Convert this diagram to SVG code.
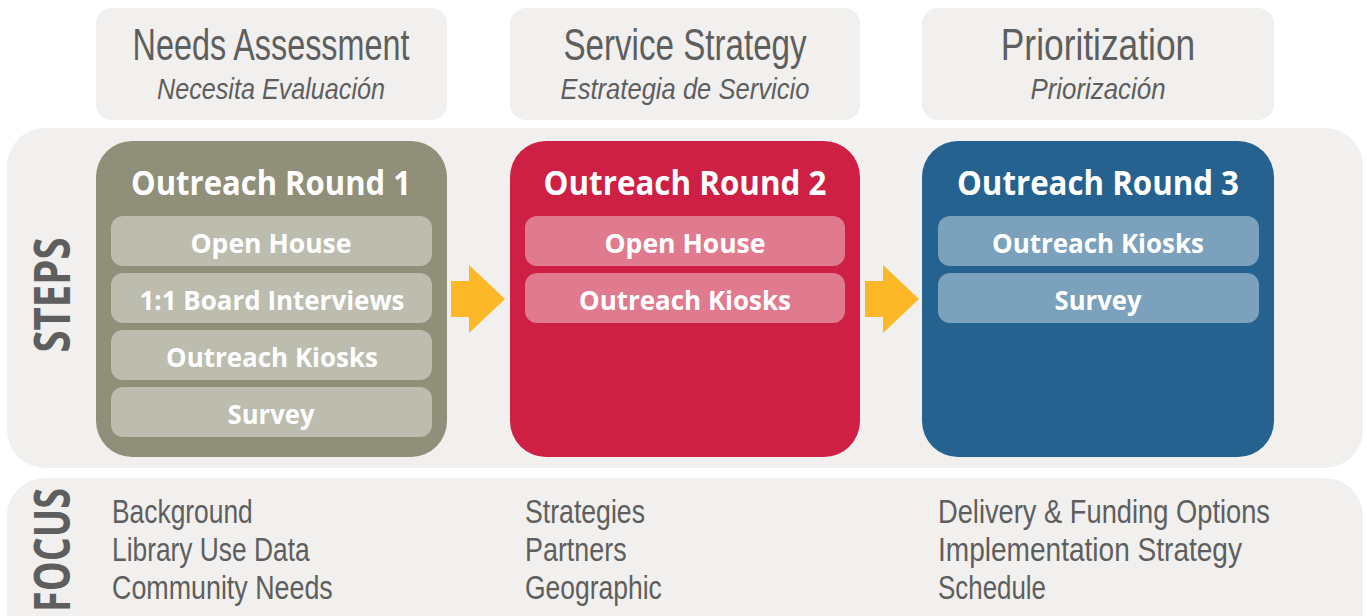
<svg xmlns="http://www.w3.org/2000/svg" width="1367" height="616" viewBox="0 0 1367 616">
<style>
.panel{fill:#F1F0EE}
.hd{font-family:"Liberation Sans",Arial,sans-serif;font-size:44px;fill:#5E5E5E;text-anchor:middle}
.hdi{font-family:"Liberation Sans",Arial,sans-serif;font-size:30px;font-style:italic;fill:#5E5E5E;text-anchor:middle}
.ttl{font-family:"Open Sans","Liberation Sans",sans-serif;font-size:34px;font-weight:bold;fill:#FFFFFF;text-anchor:middle}
.it{font-family:"Open Sans","Liberation Sans",sans-serif;font-size:27px;font-weight:bold;fill:#FFFFFF;text-anchor:middle}
.fc{font-family:"Liberation Sans",Arial,sans-serif;font-size:34px;fill:#5E5E5E}
.side{font-family:"Open Sans","Liberation Sans",sans-serif;font-size:50px;font-weight:bold;fill:#5E5E5E;text-anchor:middle}
.r1{fill:#8F8F7A}.s1{fill:#BCBCAF}
.r2{fill:#CE1F45}.s2{fill:#E07A8E}
.r3{fill:#26628F}.s3{fill:#7BA1BD}
.arr{fill:#FDB827}
</style>
<rect width="1367" height="616" fill="#FFFFFF"/>
<g id="header1"><rect class="panel" x="96" y="8" width="351" height="112" rx="16"/>
<text class="hd" transform="translate(271,60) scale(0.8,1)" textLength="346" lengthAdjust="spacingAndGlyphs">Needs Assessment</text>
<text class="hdi" transform="translate(271,99) scale(0.8,1)" textLength="285" lengthAdjust="spacingAndGlyphs">Necesita Evaluación</text></g>
<g id="header2"><rect class="panel" x="510" y="8" width="350" height="112" rx="16"/>
<text class="hd" transform="translate(685,60) scale(0.8,1)" textLength="304" lengthAdjust="spacingAndGlyphs">Service Strategy</text>
<text class="hdi" transform="translate(685,99) scale(0.8,1)" textLength="311" lengthAdjust="spacingAndGlyphs">Estrategia de Servicio</text></g>
<g id="header3"><rect class="panel" x="922" y="8" width="352" height="112" rx="16"/>
<text class="hd" transform="translate(1098,60) scale(0.8,1)" textLength="243" lengthAdjust="spacingAndGlyphs">Prioritization</text>
<text class="hdi" transform="translate(1098,99) scale(0.8,1)" textLength="169" lengthAdjust="spacingAndGlyphs">Priorización</text></g>

<g id="steps-panel"><rect class="panel" x="7" y="128" width="1356" height="340" rx="38"/>
<text class="side" transform="translate(70,295) rotate(-90)" textLength="115" lengthAdjust="spacingAndGlyphs">STEPS</text></g>
<g id="focus-panel"><rect class="panel" x="7" y="478" width="1356" height="170" rx="38"/>
<text class="side" transform="translate(70,550) rotate(-90)" textLength="124" lengthAdjust="spacingAndGlyphs">FOCUS</text></g>

<g id="round1"><rect class="r1" x="96" y="141" width="351" height="316" rx="36"/>
<text class="ttl" x="271" y="195" textLength="280" lengthAdjust="spacingAndGlyphs">Outreach Round 1</text>
<rect class="s1" x="111" y="216" width="321" height="50" rx="12"/>
<text class="it" x="271" y="253" textLength="161" lengthAdjust="spacingAndGlyphs">Open House</text>
<rect class="s1" x="111" y="273" width="321" height="50" rx="12"/>
<text class="it" x="272" y="310" textLength="265" lengthAdjust="spacingAndGlyphs">1:1 Board Interviews</text>
<rect class="s1" x="111" y="330" width="321" height="50" rx="12"/>
<text class="it" x="272" y="367" textLength="212" lengthAdjust="spacingAndGlyphs">Outreach Kiosks</text>
<rect class="s1" x="111" y="387" width="321" height="50" rx="12"/>
<text class="it" x="271" y="424" textLength="87" lengthAdjust="spacingAndGlyphs">Survey</text></g>

<g id="round2"><rect class="r2" x="510" y="141" width="350" height="316" rx="36"/>
<text class="ttl" x="685" y="195" textLength="283" lengthAdjust="spacingAndGlyphs">Outreach Round 2</text>
<rect class="s2" x="525" y="216" width="320" height="50" rx="12"/>
<text class="it" x="685" y="253" textLength="161" lengthAdjust="spacingAndGlyphs">Open House</text>
<rect class="s2" x="525" y="273" width="320" height="50" rx="12"/>
<text class="it" x="685" y="310" textLength="212" lengthAdjust="spacingAndGlyphs">Outreach Kiosks</text></g>

<g id="round3"><rect class="r3" x="922" y="141" width="352" height="316" rx="36"/>
<text class="ttl" x="1098" y="195" textLength="282" lengthAdjust="spacingAndGlyphs">Outreach Round 3</text>
<rect class="s3" x="938" y="216" width="321" height="50" rx="12"/>
<text class="it" x="1098" y="253" textLength="212" lengthAdjust="spacingAndGlyphs">Outreach Kiosks</text>
<rect class="s3" x="938" y="273" width="321" height="50" rx="12"/>
<text class="it" x="1098" y="310" textLength="87" lengthAdjust="spacingAndGlyphs">Survey</text></g>

<g id="connectors">
<polygon class="arr" points="451,281 469,281 469,265 505,299 469,333 469,317 451,317"/>
<polygon class="arr" points="865,281 883,281 883,265 919,299 883,333 883,317 865,317"/>
</g>

<g id="focus1">
<text class="fc" transform="translate(112,523) scale(0.8,1)" textLength="176" lengthAdjust="spacingAndGlyphs">Background</text>
<text class="fc" transform="translate(112,561) scale(0.8,1)" textLength="247" lengthAdjust="spacingAndGlyphs">Library Use Data</text>
<text class="fc" transform="translate(112,599) scale(0.8,1)" textLength="276" lengthAdjust="spacingAndGlyphs">Community Needs</text></g>
<g id="focus2">
<text class="fc" transform="translate(525,523) scale(0.8,1)" textLength="150" lengthAdjust="spacingAndGlyphs">Strategies</text>
<text class="fc" transform="translate(525,561) scale(0.8,1)" textLength="127" lengthAdjust="spacingAndGlyphs">Partners</text>
<text class="fc" transform="translate(525,599) scale(0.8,1)" textLength="171" lengthAdjust="spacingAndGlyphs">Geographic</text></g>
<g id="focus3">
<text class="fc" transform="translate(938,523) scale(0.8,1)" textLength="415" lengthAdjust="spacingAndGlyphs">Delivery &amp; Funding Options</text>
<text class="fc" transform="translate(938,561) scale(0.8,1)" textLength="380" lengthAdjust="spacingAndGlyphs">Implementation Strategy</text>
<text class="fc" transform="translate(938,599) scale(0.8,1)" textLength="135" lengthAdjust="spacingAndGlyphs">Schedule</text></g>
</svg>
